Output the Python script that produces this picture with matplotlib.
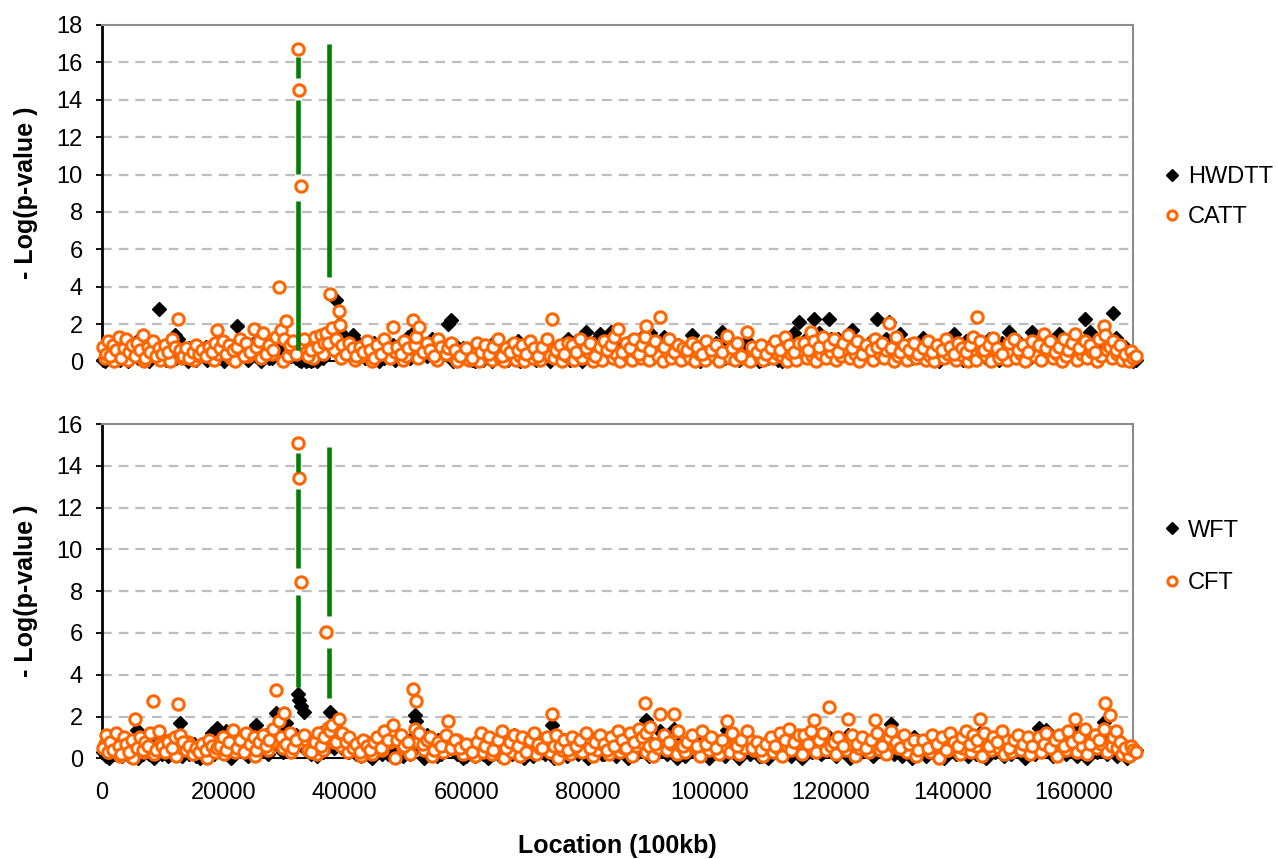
import matplotlib
matplotlib.use("Agg")
import matplotlib.pyplot as plt

plt.rcParams['font.family'] = ['Liberation Sans', 'DejaVu Sans']
plt.rcParams['lines.scale_dashes'] = False

# SNP locations (shared by all four tests)
location = [
    290, 670, 1060, 1440, 1920, 2310, 2790, 3170, 3650, 4030, 4510, 4900, 5480, 5760, 6240, 6720, 7110, 7590, 7970, 8480, 8930, 9370,
    9890, 10370, 10850, 11530, 12100, 12550, 12870, 13350, 13930, 14410, 14990, 15470, 16040, 16520, 17100, 17580, 18160, 18640, 18900,
    19400, 19880, 20460, 20940, 21610, 22240, 22770, 23340, 23820, 24400, 24980, 25460, 25940, 26510, 26990, 27570, 28150, 28630,
    29140, 29490, 30010, 30400, 30930, 31410, 31890, 32370, 32470, 32850, 33330, 33910, 34490, 35060, 35640, 36120, 36600, 36980, 37270, 37520, 37940, 38620, 39000, 39160,
    39580, 40150, 40730, 41310, 41880, 42460, 43030, 43610, 44190, 44760, 45340, 45920, 46490, 47070, 47890,
    48510, 49180, 49760, 50430, 51200, 51490, 51680, 52260, 52830, 53510, 54080, 54750, 55330, 55910, 56580, 56960, 57440,
    58120, 58890, 59940, 61000, 61770, 62440, 63110, 63780, 64460, 65130, 65800, 66470, 67150, 67820, 68490, 69160, 69840, 70510, 71180, 71850, 72530, 73200, 74060, 74730, 75410, 76080, 76750,
    77420, 78100, 78770, 79730, 80400, 81170, 81940, 82610, 83190, 83770, 84340, 84920, 85590, 86260, 86940, 87610, 88380, 88950, 89340, 89620, 90300, 91060, 91930, 92600, 93270, 94240, 94910, 95580,
    96350, 97210, 97980, 98750, 99520, 100290, 101050, 102110, 102970, 103740, 104510, 105280, 106240, 107010, 107780, 108550, 109310, 110080, 110850, 111620, 112390, 113160, 113930, 114790,
    115560, 116230, 116710, 117190, 117960, 118730, 119690, 120460, 121230, 122000, 122760, 123530, 124300, 125070, 125840, 126610, 127280, 127660, 128430, 129490, 129870, 130640, 131310, 132080, 132850, 133620, 134390,
    135160, 135920, 136690, 137460, 138230, 139000, 139670, 140250, 140920, 141490, 142170, 142840, 143420, 144090, 144480, 145240, 146010, 146590, 147360, 148120, 149280, 150050, 150810, 151580, 152350, 153120,
    154180, 155040, 155330, 156100, 156870, 157540, 158310, 159070, 159750, 160230, 160900, 161860, 162630, 163400, 164160, 164930, 165030, 165990, 166470, 166860, 167630, 168390, 169350, 169640, 170220,
]

hwdtt = [
    0.1, 0.4, 0.2, 0.7, 0.3, 0.9, 0.5, 0.2, 0.8, 0.4, 0.1, 0.6, 1.0, 1.1, 0.3, 0.7, 0.2, 0.5, 0.9, 0.4, 0.6, 2.8,
    0.3, 0.6, 0.1, 0.5, 1.4, 1.2, 0.9, 0.4, 0.2, 0.7, 0.3, 0.1, 0.6, 0.4, 0.8, 0.2, 0.5, 0.3, 0.9,
    0.4, 0.2, 0.8, 0.5, 0.3, 1.9, 0.6, 0.9, 0.4, 0.7, 1.0, 0.3, 0.8, 0.6, 0.5, 0.2, 0.9, 0.4,
    0.5, 0.8, 1.1, 0.9, 0.3, 0.6, 0.2, 0.4, 0.1, 0.0, 0.2, 0.1, 0.0, 0.3, 0.2, 0.5, 0.9, 0.7, 1.0, 1.3, 1.2, 3.3, 2.0, 1.6,
    0.8, 1.2, 0.6, 1.4, 1.1, 0.5, 0.9, 0.3, 0.7, 1.0, 0.4, 0.8, 0.2, 0.6, 0.9,
    0.6, 1.0, 0.4, 1.3, 1.5, 1.2, 0.9, 1.1, 0.7, 0.3, 0.8, 0.5, 0.9, 0.4, 0.7, 2.0, 2.2,
    0.9, 0.5, 0.2, 0.1, 0.4, 0.8, 0.3, 0.6, 1.0, 0.4, 0.7, 0.2, 0.9, 0.5, 1.1, 0.3, 0.6, 0.8, 0.4, 0.2, 0.7, 1.0, 0.5, 0.3, 0.8, 0.6, 1.2,
    0.7, 1.1, 0.4, 1.55, 0.9, 0.6, 1.45, 0.8, 1.2, 1.6, 0.5, 1.0, 0.3, 0.7, 1.1, 0.4, 0.9, 1.3, 0.6, 1.0, 1.5, 0.8, 0.5, 1.3, 0.7, 0.4, 0.9, 0.6,
    0.8, 1.4, 0.5, 0.9, 0.3, 0.7, 1.0, 1.55, 0.6, 0.2, 0.8, 0.4, 1.1, 0.6, 0.3, 0.1, 0.5, 0.9, 0.4, 0.7, 1.2, 0.8, 1.5, 2.1,
    0.9, 1.3, 0.7, 2.25, 1.5, 1.0, 2.25, 0.8, 1.2, 0.6, 1.0, 1.7, 0.5, 0.9, 0.4, 1.1, 0.7, 2.25, 0.6, 2.1, 1.0, 0.8, 1.45, 0.5, 0.9, 0.3, 0.7,
    1.28, 0.6, 0.9, 0.3, 0.7, 1.0, 0.5, 1.45, 0.8, 0.4, 1.1, 0.6, 0.9, 0.7, 1.0, 0.5, 1.2, 0.8, 0.4, 1.0, 1.55, 0.7, 1.1, 0.5, 0.9, 1.6,
    0.9, 0.8, 1.1, 0.5, 0.9, 1.45, 0.7, 1.0, 0.4, 1.2, 0.8, 2.25, 1.6, 0.9, 0.6, 1.3, 1.0, 0.7, 2.6, 1.28, 0.5, 0.8, 0.3, 0.0, 0.1,
]

catt = [
    0.8, 0.4, 1.1, 0.3, 0.9, 0.6, 1.3, 0.2, 0.7, 1.2, 0.5, 0.9, 0.3, 1.0, 0.6, 1.4, 0.2, 0.8, 0.5, 1.1, 0.3, 0.7,
    0.4, 0.9, 0.5, 1.2, 0.8, 2.25, 0.6, 0.3, 0.7, 0.2, 0.5, 0.9, 0.4, 0.6, 0.3, 0.8, 0.5, 1.0, 1.7,
    0.7, 1.1, 0.4, 0.9, 0.6, 0.8, 1.2, 0.3, 1.0, 0.5, 1.75, 0.8, 1.1, 1.5, 0.4, 0.9, 0.6, 1.3,
    4.0, 1.7, 1.2, 2.16, 0.9, 1.1, 0.4, 16.7, 14.5, 9.4, 1.2, 0.3, 0.6, 1.3, 0.8, 1.4, 1.0, 1.5, 1.0, 3.6, 1.8, 1.2, 2.7, 1.93,
    0.9, 0.4, 1.0, 0.7, 0.3, 0.8, 0.5, 1.1, 0.6, 0.2, 0.9, 0.4, 1.2, 0.7, 1.85,
    0.8, 0.4, 1.1, 0.7, 2.2, 0.9, 1.3, 1.85, 0.5, 1.0, 0.6, 0.3, 1.2, 0.8, 0.4, 0.7, 1.0,
    0.6, 0.3, 0.7, 0.2, 1.0, 0.5, 0.9, 0.4, 0.8, 1.2, 0.3, 0.7, 0.5, 1.0, 0.6, 0.9, 0.4, 1.1, 0.7, 0.3, 0.8, 1.2, 2.25, 0.6, 0.9, 0.4, 1.0,
    0.9, 0.5, 1.2, 0.7, 1.0, 0.3, 0.8, 1.1, 0.6, 0.9, 1.3, 1.76, 0.5, 1.0, 0.7, 1.2, 0.4, 0.9, 1.3, 1.9, 0.6, 1.1, 2.37, 0.8, 1.2, 0.5, 0.9, 0.7,
    0.6, 1.0, 0.8, 0.4, 1.1, 0.6, 0.9, 0.5, 1.35, 0.7, 1.0, 0.3, 1.55, 0.8, 0.5, 0.9, 0.4, 0.7, 1.1, 0.6, 1.3, 0.9, 0.5, 1.0,
    1.0, 0.6, 1.6, 1.1, 0.8, 1.3, 0.9, 1.2, 0.5, 1.0, 1.4, 0.7, 1.1, 0.4, 0.9, 0.6, 1.2, 0.8, 1.0, 2.07, 0.7, 1.3, 0.5, 0.9, 0.6, 1.0, 0.4,
    0.7, 1.1, 0.5, 0.9, 0.6, 1.2, 0.8, 0.4, 1.0, 0.7, 0.5, 0.9, 1.3, 2.37, 1.1, 0.6, 0.9, 1.27, 0.7, 0.4, 1.0, 1.2, 0.6, 0.9, 0.5, 1.1,
    0.9, 1.45, 0.7, 1.1, 0.5, 0.8, 1.2, 0.6, 1.0, 1.45, 0.7, 1.1, 0.9, 0.5, 1.2, 1.9, 1.4, 0.8, 1.1, 0.6, 0.9, 0.4, 0.55, 0.2, 0.3,
]

wft = [
    0.3, 0.1, 0.6, 0.4, 0.8, 0.2, 0.5, 0.9, 0.3, 0.7, 0.1, 0.4, 0.6, 1.35, 0.9, 0.2, 0.5, 0.8, 0.3, 0.6, 0.2, 1.1,
    0.2, 0.5, 0.1, 0.4, 0.8, 1.0, 1.7, 0.6, 0.3, 0.2, 0.5, 0.1, 0.4, 0.7, 0.3, 0.6, 1.2, 0.4, 1.43,
    0.3, 0.7, 1.3, 0.5, 0.9, 0.6, 0.4, 1.0, 0.2, 1.2, 0.8, 1.6, 0.5, 0.7, 1.1, 0.9, 1.3, 2.15,
    1.0, 1.2, 0.9, 1.67, 0.6, 0.8, 1.1, 3.1, 2.8, 2.5, 2.2, 0.4, 0.2, 0.6, 0.9, 1.2, 0.5, 1.1, 0.8, 2.2, 1.0, 0.6, 1.3, 0.9,
    0.5, 0.9, 0.3, 0.7, 0.2, 0.6, 0.4, 0.8, 0.1, 0.5, 0.3, 0.9, 0.6, 0.2, 0.7,
    0.7, 0.4, 0.9, 0.6, 1.0, 2.07, 1.8, 0.8, 0.5, 1.1, 0.3, 0.6, 0.9, 0.2, 0.5, 0.8, 0.6,
    0.4, 0.8, 0.1, 0.3, 0.6, 1.0, 0.5, 0.9, 0.2, 0.7, 0.4, 0.8, 0.3, 1.1, 0.6, 0.2, 0.9, 0.5, 0.7, 1.0, 0.3, 0.6, 1.6, 0.8, 0.4, 0.9, 0.5,
    0.6, 0.3, 0.8, 0.5, 1.0, 0.4, 0.7, 0.2, 0.9, 0.6, 1.1, 0.4, 0.8, 0.5, 0.3, 0.7, 1.0, 0.6, 1.2, 1.83, 0.8, 0.5, 1.3, 0.9, 0.4, 1.4, 0.7, 0.3,
    0.5, 0.8, 0.3, 0.6, 1.0, 0.4, 0.7, 0.9, 1.35, 0.5, 0.2, 0.6, 0.4, 0.8, 0.3, 0.1, 0.6, 0.4, 0.9, 0.5, 0.7, 1.0, 0.6, 0.8,
    0.6, 0.9, 0.4, 1.2, 0.7, 0.3, 1.0, 0.5, 0.8, 0.4, 1.1, 0.6, 0.2, 0.9, 0.5, 0.7, 1.0, 0.4, 0.8, 0.6, 1.64, 0.9, 0.3, 0.7, 0.5, 1.0, 0.6,
    0.5, 0.8, 0.3, 0.6, 0.9, 0.4, 0.7, 1.0, 0.5, 1.03, 0.6, 0.3, 0.8, 0.5, 1.2, 0.7, 0.4, 0.9, 0.6, 0.2, 0.8, 0.5, 1.0, 0.7, 0.4, 0.9,
    1.43, 0.6, 1.35, 0.9, 0.4, 0.7, 1.0, 0.5, 0.8, 1.38, 0.6, 0.9, 0.3, 0.7, 1.0, 1.75, 1.1, 0.6, 0.9, 0.4, 0.7, 0.3, 0.5, 0.2, 0.4,
]

cft = [
    0.5, 1.1, 0.3, 0.8, 0.4, 1.2, 0.6, 0.2, 1.0, 0.7, 0.3, 0.9, 1.9, 0.5, 1.0, 0.4, 0.8, 0.6, 1.2, 2.74, 0.4, 1.3,
    0.6, 0.3, 0.8, 0.5, 1.0, 2.6, 1.1, 0.8, 0.4, 0.6, 0.2, 0.5, 0.3, 0.7, 0.4, 0.9, 0.6, 0.3, 0.5,
    0.6, 1.0, 0.4, 0.8, 1.35, 0.5, 0.9, 0.3, 1.2, 0.7, 1.0, 0.4, 0.8, 1.1, 0.6, 0.9, 1.4, 3.27,
    1.8, 1.0, 2.15, 0.7, 1.2, 0.5, 0.9, 15.1, 13.4, 8.45, 1.1, 0.4, 0.3, 0.8, 1.2, 0.6, 1.0, 6.03, 1.45, 1.3, 1.6, 0.8, 1.9, 1.2,
    1.2, 0.8, 1.0, 0.5, 0.7, 0.3, 0.9, 0.6, 0.4, 0.8, 1.0, 0.5, 1.3, 0.9, 1.6,
    0.9, 1.1, 0.6, 0.8, 3.3, 1.4, 2.76, 1.2, 0.7, 0.9, 1.0, 0.4, 0.8, 0.6, 1.1, 1.8, 0.5,
    0.9, 0.5, 0.7, 0.3, 0.8, 1.2, 0.6, 1.0, 0.4, 0.9, 1.3, 0.5, 0.8, 1.1, 0.6, 1.0, 0.3, 0.9, 1.2, 0.7, 0.5, 1.0, 2.1, 1.1, 0.6, 0.9, 0.4,
    1.0, 0.6, 0.9, 1.2, 0.5, 0.8, 1.1, 0.7, 0.4, 1.0, 0.6, 1.3, 0.9, 0.5, 1.2, 0.8, 1.4, 1.0, 2.63, 1.2, 1.5, 0.7, 2.1, 1.1, 0.8, 2.1, 1.3, 0.6,
    0.8, 1.1, 0.6, 1.3, 0.7, 1.0, 0.5, 0.9, 1.78, 1.2, 0.6, 0.9, 1.3, 0.5, 0.8, 0.4, 0.7, 1.0, 0.6, 1.2, 0.9, 1.4, 0.8, 1.1,
    1.1, 0.7, 1.3, 1.83, 0.9, 1.2, 2.47, 0.8, 1.0, 0.6, 1.9, 1.1, 0.7, 1.0, 0.5, 0.9, 1.83, 1.2, 0.6, 1.0, 1.3, 0.8, 0.5, 1.1, 0.7, 0.9, 0.4,
    0.9, 0.5, 1.1, 0.7, 1.0, 0.4, 1.2, 0.8, 0.6, 1.0, 1.3, 0.7, 1.1, 0.9, 1.9, 1.2, 0.6, 1.0, 0.8, 1.3, 0.5, 0.9, 1.1, 0.7, 1.0, 0.6,
    1.0, 0.7, 1.2, 0.5, 0.9, 1.1, 0.6, 1.3, 0.8, 1.9, 1.0, 1.4, 0.7, 1.1, 0.9, 1.4, 2.63, 2.07, 1.0, 1.3, 0.8, 0.5, 0.6, 0.4, 0.3,
]

# the many low-scoring SNPs that fill the band near zero
location_low = [
    500, 1250, 2100, 2950, 3400, 4300, 5200, 6000, 6900, 7750,
    8650, 9600, 10600, 11200, 12300, 13150, 14150, 15200, 16250, 17300,
    18400, 19200, 20200, 21250, 22000, 23050, 24100, 25200, 26250, 27300,
    28000, 29800, 30650, 31200, 33600, 34800, 35400, 36400, 38200, 39400,
    40500, 41600, 42700, 43300, 44500, 45600, 46200, 47400, 48200, 49500,
    50100, 50800, 52000, 53100, 54400, 55100, 56200, 57800, 58500, 59500,
    60400, 61400, 62100, 62800, 63500, 64200, 64800, 65500, 66200, 66800,
    67500, 68200, 68800, 69500, 70200, 70900, 71500, 72200, 72900, 73700,
    74400, 75100, 75800, 76500, 77100, 77800, 78400, 79100, 80000, 80800,
    81500, 82300, 83500, 84100, 84700, 85300, 86000, 86600, 87300, 88000,
    88700, 89500, 90000, 90700, 91500, 92300, 93000, 93700, 94600, 95300,
    96000, 96800, 97600, 98400, 99200, 99900, 100700, 101500, 102500, 103400,
    104200, 104900, 105700, 106600, 107400, 108200, 108900, 109700, 110500, 111300,
    112000, 112800, 113500, 114300, 115200, 116000, 116900, 117600, 118300, 119200,
    120000, 120800, 121600, 122400, 123200, 123900, 124700, 125500, 126300, 127000,
    128000, 128800, 129100, 130300, 131000, 131700, 132500, 133300, 134000, 134800,
    135600, 136300, 137000, 137800, 138600, 139300, 140600, 141200, 141800, 142500,
    143100, 143800, 144800, 145600, 146300, 147000, 147700, 148500, 149000, 149700,
    150400, 151200, 152000, 152700, 153500, 154500, 155700, 156500, 157200, 158000,
    158700, 159400, 160500, 161300, 162200, 163000, 163800, 164500, 165500, 166200,
    167000, 167900, 168700, 169000,
]

hwdtt_low = [
    0.0, 0.3, 0.6, 0.1, 0.4, 0.0, 0.7, 0.2, 0.5, 0.0,
    0.3, 0.8, 0.1, 0.5, 0.2, 0.6, 0.0, 0.4, 0.7, 0.1,
    0.5, 0.2, 0.0, 0.6, 0.3, 0.8, 0.1, 0.4, 0.0, 0.7,
    0.2, 0.5, 0.9, 0.3, 0.0, 0.1, 0.0, 0.2, 0.6, 0.8,
    1.0, 0.4, 0.7, 0.2, 0.5, 0.0, 0.3, 0.6, 0.1, 0.4,
    0.8, 0.2, 1.1, 0.5, 1.2, 0.3, 0.6, 0.0, 0.4, 0.7,
    0.2, 0.0, 0.3, 0.1, 0.5, 0.0, 0.4, 0.2, 0.6, 0.1,
    0.3, 0.7, 0.0, 0.4, 0.2, 0.6, 0.1, 0.5, 0.3, 0.0,
    0.6, 0.2, 0.4, 0.8, 0.1, 0.5, 0.3, 0.0, 0.7, 1.0,
    0.4, 0.9, 1.1, 0.3, 0.6, 0.8, 0.2, 1.0, 0.5, 0.7,
    0.3, 0.6, 0.9, 0.2, 0.8, 0.4, 1.0, 0.6, 0.3, 0.5,
    0.2, 0.7, 0.4, 0.0, 0.6, 0.3, 0.5, 0.9, 0.2, 0.4,
    0.7, 0.1, 0.5, 0.8, 0.3, 0.0, 0.4, 0.2, 0.6, 0.1,
    0.0, 0.3, 0.5, 0.2, 0.7, 0.9, 1.1, 0.6, 1.0, 0.8,
    1.2, 0.5, 0.9, 1.3, 0.7, 1.0, 0.6, 0.3, 0.8, 0.5,
    0.9, 0.4, 1.2, 0.6, 0.3, 0.8, 0.5, 0.2, 0.7, 0.4,
    0.6, 0.2, 0.5, 0.0, 0.4, 0.7, 0.3, 0.6, 0.1, 0.5,
    0.8, 0.3, 0.6, 0.2, 0.9, 0.4, 0.1, 0.7, 1.0, 0.5,
    0.3, 0.8, 0.5, 0.2, 0.6, 0.9, 0.4, 0.7, 0.2, 0.5,
    0.8, 0.4, 1.1, 0.6, 0.9, 0.3, 0.7, 1.0, 0.5, 0.8,
    0.4, 0.6, 0.2, 0.1,
]

catt_low = [
    0.2, 0.6, 0.0, 0.9, 0.5, 0.1, 0.4, 0.8, 0.0, 0.3,
    0.6, 0.1, 0.4, 0.0, 0.7, 0.2, 0.5, 0.1, 0.3, 0.6,
    0.1, 0.4, 0.7, 0.2, 0.0, 0.5, 0.3, 0.8, 0.2, 0.6,
    0.4, 0.0, 0.3, 0.7, 0.5, 0.2, 0.9, 0.4, 0.6, 0.2,
    0.5, 0.1, 0.3, 0.6, 0.0, 0.4, 0.8, 0.2, 0.5, 0.1,
    0.3, 0.7, 0.2, 0.5, 0.4, 0.1, 0.6, 0.3, 0.0, 0.5,
    0.1, 0.4, 0.0, 0.6, 0.3, 0.1, 0.5, 0.2, 0.0, 0.4,
    0.6, 0.1, 0.3, 0.0, 0.5, 0.2, 0.4, 0.1, 0.6, 0.3,
    0.2, 0.5, 0.0, 0.3, 0.6, 0.1, 0.4, 0.2, 0.5, 0.0,
    0.3, 0.1, 0.5, 0.2, 0.4, 0.0, 0.6, 0.3, 0.1, 0.5,
    0.2, 0.4, 0.1, 0.6, 0.3, 0.0, 0.5, 0.2, 0.4, 0.1,
    0.5, 0.2, 0.0, 0.4, 0.1, 0.6, 0.3, 0.0, 0.5, 0.2,
    0.1, 0.4, 0.2, 0.0, 0.6, 0.3, 0.1, 0.5, 0.2, 0.4,
    0.3, 0.0, 0.4, 0.1, 0.5, 0.2, 0.3, 0.0, 0.4, 0.2,
    0.5, 0.1, 0.3, 0.6, 0.2, 0.4, 0.0, 0.5, 0.3, 0.1,
    0.4, 0.2, 0.6, 0.0, 0.3, 0.5, 0.1, 0.4, 0.2, 0.6,
    0.1, 0.3, 0.0, 0.5, 0.2, 0.4, 0.1, 0.6, 0.3, 0.0,
    0.4, 0.1, 0.5, 0.3, 0.0, 0.6, 0.2, 0.4, 0.1, 0.5,
    0.2, 0.4, 0.0, 0.6, 0.3, 0.1, 0.5, 0.2, 0.4, 0.0,
    0.3, 0.6, 0.1, 0.4, 0.2, 0.5, 0.0, 0.3, 0.6, 0.2,
    0.4, 0.1, 0.3, 0.0,
]

wft_low = [
    0.4, 0.0, 0.2, 0.6, 0.1, 0.5, 0.3, 0.0, 0.7, 0.2,
    0.0, 0.4, 0.6, 0.2, 0.5, 0.1, 0.3, 0.7, 0.0, 0.4,
    0.2, 0.6, 0.3, 0.0, 0.8, 0.4, 0.1, 0.5, 0.7, 0.2,
    0.6, 0.3, 0.8, 0.5, 0.4, 0.7, 0.1, 0.3, 0.5, 0.9,
    0.3, 0.6, 0.1, 0.4, 0.0, 0.5, 0.2, 0.7, 0.3, 0.1,
    0.5, 0.2, 0.6, 0.0, 0.4, 0.1, 0.3, 0.6, 0.2, 0.0,
    0.4, 0.1, 0.5, 0.2, 0.0, 0.6, 0.3, 0.1, 0.4, 0.7,
    0.2, 0.5, 0.3, 0.0, 0.6, 0.1, 0.4, 0.7, 0.2, 0.5,
    0.0, 0.3, 0.6, 0.1, 0.4, 0.8, 0.2, 0.5, 0.0, 0.3,
    0.6, 0.2, 0.4, 0.7, 0.1, 0.5, 0.3, 0.0, 0.6, 0.2,
    0.4, 0.7, 0.1, 0.5, 0.3, 0.8, 0.2, 0.6, 0.0, 0.4,
    0.1, 0.5, 0.3, 0.7, 0.2, 0.0, 0.6, 0.4, 0.1, 0.5,
    0.3, 0.0, 0.6, 0.2, 0.5, 0.1, 0.4, 0.0, 0.3, 0.6,
    0.2, 0.5, 0.1, 0.4, 0.0, 0.6, 0.3, 0.7, 0.2, 0.5,
    0.4, 0.1, 0.6, 0.3, 0.0, 0.5, 0.2, 0.7, 0.4, 0.1,
    0.5, 0.3, 0.8, 0.2, 0.6, 0.1, 0.4, 0.0, 0.5, 0.3,
    0.1, 0.6, 0.3, 0.5, 0.0, 0.4, 0.2, 0.7, 0.3, 0.1,
    0.5, 0.2, 0.6, 0.0, 0.4, 0.3, 0.7, 0.1, 0.5, 0.2,
    0.6, 0.3, 0.0, 0.5, 0.2, 0.4, 0.7, 0.1, 0.3, 0.6,
    0.2, 0.5, 0.1, 0.4, 0.0, 0.6, 0.3, 0.8, 0.2, 0.4,
    0.1, 0.3, 0.0, 0.2,
]

cft_low = [
    0.7, 0.3, 0.9, 0.1, 0.6, 0.4, 0.0, 0.8, 0.3, 0.5,
    0.2, 0.7, 0.4, 0.9, 0.1, 0.5, 0.8, 0.3, 0.6, 0.0,
    0.4, 0.8, 0.2, 0.6, 0.3, 0.9, 0.5, 0.1, 0.7, 0.4,
    0.8, 0.5, 0.6, 0.3, 0.9, 0.7, 0.2, 0.4, 0.8, 0.6,
    0.3, 0.7, 0.1, 0.5, 0.2, 0.6, 0.4, 0.8, 0.0, 0.5,
    0.6, 0.2, 0.8, 0.4, 0.1, 0.7, 0.3, 0.5, 0.9, 0.2,
    0.5, 0.1, 0.6, 0.3, 0.8, 0.2, 0.4, 0.7, 0.0, 0.5,
    0.3, 0.8, 0.1, 0.6, 0.4, 0.9, 0.2, 0.5, 0.7, 0.3,
    0.6, 0.0, 0.4, 0.8, 0.2, 0.5, 0.7, 0.3, 0.9, 0.1,
    0.4, 0.7, 0.2, 0.6, 0.9, 0.3, 0.5, 0.8, 0.1, 0.6,
    0.8, 0.3, 0.6, 0.1, 0.5, 0.9, 0.4, 0.7, 0.2, 0.6,
    0.3, 0.8, 0.5, 0.1, 0.7, 0.4, 0.9, 0.2, 0.6, 0.3,
    0.7, 0.2, 0.5, 0.9, 0.4, 0.6, 0.1, 0.8, 0.3, 0.5,
    0.1, 0.6, 0.4, 0.8, 0.2, 0.7, 0.5, 0.3, 0.9, 0.4,
    0.6, 0.2, 0.8, 0.4, 0.7, 0.1, 0.5, 0.9, 0.3, 0.6,
    0.4, 0.8, 0.2, 0.6, 0.5, 0.9, 0.3, 0.7, 0.1, 0.5,
    0.8, 0.3, 0.6, 0.0, 0.7, 0.4, 0.9, 0.2, 0.5, 0.8,
    0.3, 0.6, 0.1, 0.7, 0.4, 0.8, 0.5, 0.2, 0.9, 0.3,
    0.7, 0.4, 0.8, 0.2, 0.6, 0.3, 0.9, 0.5, 0.1, 0.7,
    0.4, 0.8, 0.3, 0.6, 0.2, 0.9, 0.5, 0.7, 0.3, 0.6,
    0.5, 0.2, 0.4, 0.1,
]

# green vertical markers (x, bottom, top of each drawn piece)
green_top_x = [32300, 32300, 32300, 37350]
green_top_lo = [0.6, 10.05, 15.15, 4.5]
green_top_hi = [8.6, 14.0, 16.3, 17.0]
green_bot_x = [32300, 32300, 32300, 37350, 37350]
green_bot_lo = [3.4, 9.1, 13.7, 2.9, 6.8]
green_bot_hi = [7.8, 12.9, 14.6, 5.3, 14.9]

x_ticks = [0, 20000, 40000, 60000, 80000, 100000, 120000, 140000, 160000]

ORANGE = '#FF6600'
GREEN = '#008000'

all_loc = location_low + location

fig = plt.figure(figsize=(12.78, 8.59), dpi=100)
ax1 = fig.add_axes([0.0796, 0.5792, 0.8069, 0.3917])
ax2 = fig.add_axes([0.0796, 0.1172, 0.8069, 0.3892])


def style_axes(ax, ymax):
    ax.set_xlim(0, 169700)
    ax.set_ylim(0, ymax)
    ax.set_yticks(list(range(0, ymax + 1, 2)))
    ax.set_xticks(x_ticks)
    for y in range(2, ymax, 2):
        ax.axhline(y, color='#BEBEBE', lw=1.6, ls=(0, (7, 5)), zorder=0)
    ax.spines['left'].set_color('black')
    ax.spines['left'].set_linewidth(2)
    ax.spines['bottom'].set_color('black')
    ax.spines['bottom'].set_linewidth(1.5)
    for s in ('top', 'right'):
        ax.spines[s].set_color('#8C8C8C')
        ax.spines[s].set_linewidth(1.5)
    ax.tick_params(axis='y', direction='out', length=4, width=1.3, pad=9.5,
                   labelsize=17, colors='black')
    ax.tick_params(axis='x', length=0, pad=17, labelsize=17)
    ax.set_ylabel('- Log(p-value )', fontsize=18, fontweight='bold')
    ax.yaxis.set_label_coords(-0.062, 0.5)


def draw_panel(ax, black_vals, orange_vals, black_name, orange_name,
               gx, glo, ghi, leg_y, leg_space):
    ax.plot(all_loc, black_vals, ls='none', marker='D', ms=7.3, mfc='black',
            mec='black', mew=1, clip_on=False, zorder=3, label=black_name)
    ax.plot(all_loc, orange_vals, ls='none', marker='o', ms=8.2, mfc='white',
            mec=ORANGE, mew=2.2, clip_on=False, zorder=4, label=orange_name)
    ax.vlines(gx, glo, ghi, color=GREEN, lw=3.3, zorder=5)
    leg = ax.legend(loc='center left', bbox_to_anchor=(1.026, leg_y),
                    frameon=False, fontsize=17, handlelength=1.0,
                    handletextpad=0.2, borderpad=0, borderaxespad=0,
                    labelspacing=leg_space, numpoints=1, markerscale=0.8)
    return leg


style_axes(ax1, 18)
style_axes(ax2, 16)
draw_panel(ax1, hwdtt_low + hwdtt, catt_low + catt, 'HWDTT', 'CATT',
           green_top_x, green_top_lo, green_top_hi, 0.489, 0.75)
draw_panel(ax2, wft_low + wft, cft_low + cft, 'WFT', 'CFT',
           green_bot_x, green_bot_lo, green_bot_hi, 0.602, 1.3)
ax1.tick_params(axis='x', labelbottom=False)

fig.text(0.4828, 0.007, 'Location (100kb)', ha='center', va='baseline',
         fontsize=18, fontweight='bold')

fig.savefig('out.png', dpi=100)
